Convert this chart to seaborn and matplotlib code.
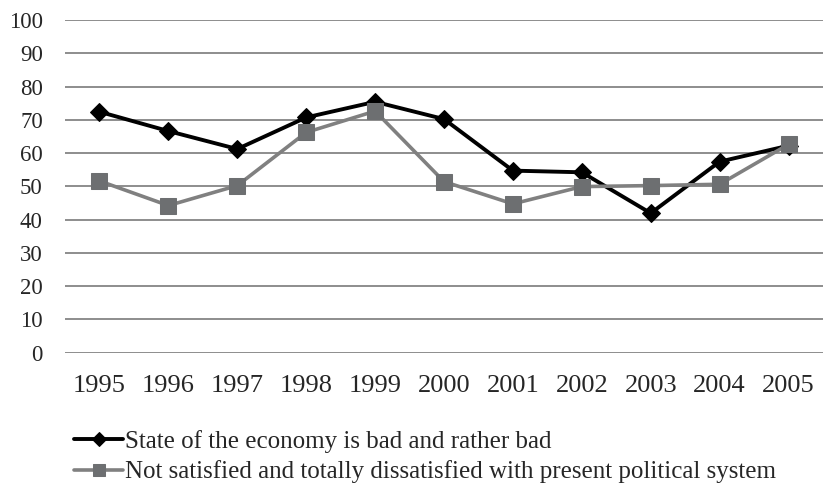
import matplotlib.pyplot as plt
import pandas as pd
import seaborn as sns

years = [1995, 1996, 1997, 1998, 1999, 2000, 2001, 2002, 2003, 2004, 2005]
economy_bad = [72.4, 66.6, 61.2, 70.7, 75.4, 70.2, 54.7, 54.2, 41.9, 57.4, 62.2]
not_satisfied = [51.6, 44.2, 50.2, 66.2, 72.6, 51.4, 44.7, 49.9, 50.2, 50.6, 62.6]
label_economy = "State of the economy is bad and rather bad"
label_politics = "Not satisfied and totally dissatisfied with present political system"

df = pd.DataFrame({'year': years, 'economy': economy_bad, 'politics': not_satisfied})

sns.set_style('white')
plt.rcParams['font.family'] = ['Liberation Serif', 'DejaVu Serif']

fig = plt.figure(figsize=(8.23, 4.94), dpi=100)
ax = fig.add_axes([0.079, 0.2864, 0.921, 0.6731])

# two series, black diamonds and grey squares
sns.lineplot(data=df, x='year', y='economy', ax=ax, color='black', linewidth=2.8,
             marker='D', markersize=9, markeredgecolor='black', label=label_economy)
sns.lineplot(data=df, x='year', y='politics', ax=ax, color='#808080', linewidth=2.6,
             marker='s', markersize=12, markerfacecolor='#6d6f71', markeredgecolor='#6d6f71',
             label=label_politics)

ax.set_xlim(1994.5, 2005.5)
ax.set_ylim(0, 100)
ax.set_xticks(years)
ax.set_yticks(range(0, 101, 10))
ax.yaxis.grid(True, color='#858585', linewidth=1.3)
ax.set_axisbelow(True)
for s in ax.spines.values():
    s.set_visible(False)
ax.tick_params(axis='y', length=0, pad=16, labelsize=16.5)
ax.tick_params(axis='x', length=0, pad=16, labelsize=19)
ax.set_xlabel('')
ax.set_ylabel('')

# legend below the plot, no frame
handles, labels = ax.get_legend_handles_labels()
ax.get_legend().remove()
leg = fig.legend(handles, labels, loc='upper left', frameon=False,
                 fontsize=18, handlelength=1.95, handletextpad=0.08, labelspacing=0.3,
                 borderaxespad=0, markerscale=0.75)
leg.set_bbox_to_anchor((0.078, 0.15), transform=fig.transFigure)

fig.savefig('out.png', dpi=100)
